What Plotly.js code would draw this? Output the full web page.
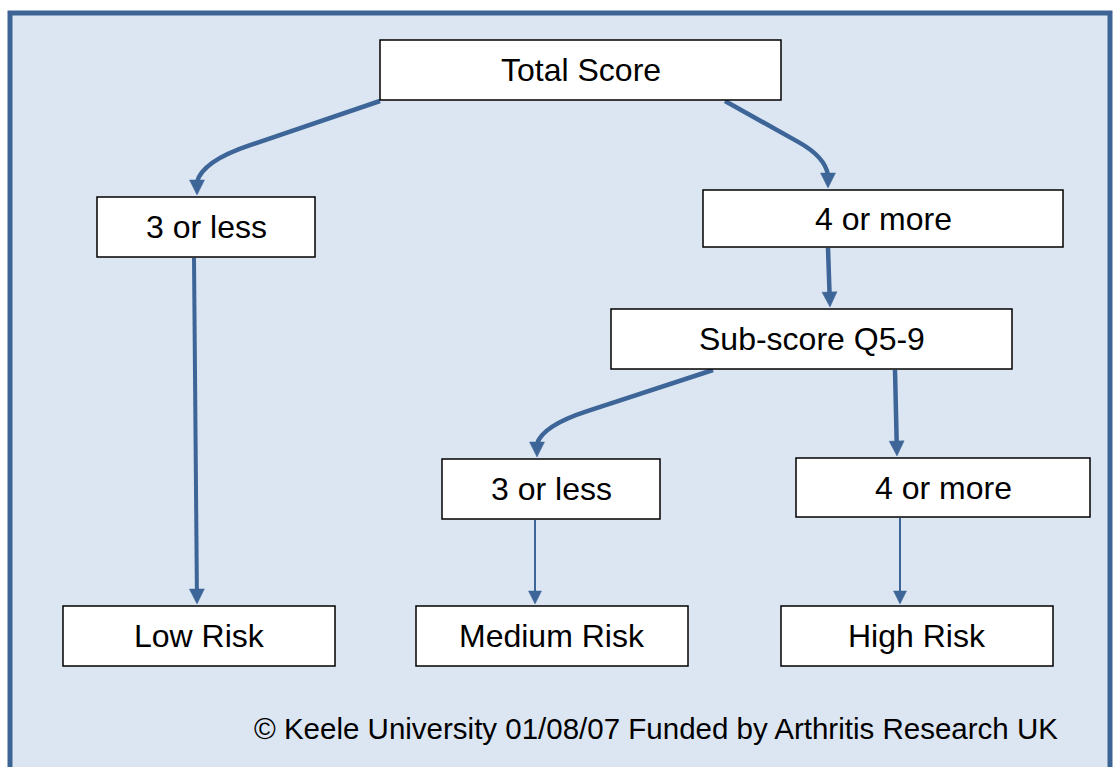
<!DOCTYPE html>
<html>
<head>
<meta charset="utf-8">
<script src="https://cdn.plot.ly/plotly-3.0.1.min.js"></script>
<style>html,body{margin:0;padding:0;background:#fff;}#chart{width:1113px;height:767px;}</style>
</head>
<body>
<div id="chart"></div>
<script>
// ---- data ----
var nodeLabels = ['Total Score', '3 or less', '4 or more', 'Sub-score Q5-9', '3 or less', '4 or more', 'Low Risk', 'Medium Risk', 'High Risk'];
var edgeFrom = [0, 0, 2, 3, 3, 1, 4, 5];
var edgeTo   = [1, 2, 3, 4, 5, 6, 7, 8];
var edgeKind = ['curve', 'curve', 'straight', 'curve', 'straight', 'straight', 'straight', 'straight'];
var footerText = '\u00A9 Keele University 01/08/07 Funded by Arthritis Research UK';

// ---- layout (positions / sizes / styles) ----
var boxX0 = [380, 97, 703, 611, 442, 796, 63, 416, 781];
var boxX1 = [781, 315, 1063, 1012, 660, 1090, 335, 688, 1053];
var boxY0 = [40, 197, 190, 309, 459, 458, 606, 606, 606];
var boxY1 = [100, 257, 247, 369, 519, 517, 666, 666, 666];
var edgeStartX = [380, 725, 828, 713, 895, 194, 535, 900];
var edgeEndX   = [197, 828, 830, 537, 897, 197, 535, 900];
var edgeWidth  = [4.5, 4.5, 4.5, 4.5, 4.5, 4, 2, 2];
var lineColor = '#3d6598';
var FONT = 'Liberation Sans, Arial, sans-serif';

var shapes = [];
var annotations = [];

// frame
shapes.push({type: 'rect', xref: 'x', yref: 'y', x0: 10, x1: 1110, y0: 13, y1: 790,
  fillcolor: '#dce6f2', line: {color: '#3e6496', width: 5}, layer: 'below'});

var heads = [];
for (var i = 0; i < edgeFrom.length; i++) {
  var s = edgeFrom[i], t = edgeTo[i];
  var sx = edgeStartX[i], sy = boxY1[s] + 1;
  var ex = edgeEndX[i], ey = boxY0[t] - 2;
  var thick = edgeWidth[i] > 3;
  var hl = thick ? 15 : 13, hw = thick ? 7.5 : 6.5;
  var path;
  var dirx, diry;
  if (edgeKind[i] === 'curve') {
    var kx = ex + 0.29 * (sx - ex);
    var ky = sy + 0.47 * (ey - sy);
    var cx = ex + 0.03 * (sx - ex);
    var cy = ky + 0.17 * (ey - sy);
    var endY = ey - hl + 2;
    path = 'M ' + sx + ' ' + sy + ' L ' + kx + ' ' + ky + ' Q ' + cx + ' ' + cy + ' ' + ex + ' ' + endY;
    dirx = 0; diry = 1;
  } else {
    var L = Math.sqrt((ex - sx) * (ex - sx) + (ey - sy) * (ey - sy));
    dirx = (ex - sx) / L; diry = (ey - sy) / L;
    var lx = ex - dirx * (hl - 2), ly = ey - diry * (hl - 2);
    path = 'M ' + sx + ' ' + sy + ' L ' + lx + ' ' + ly;
  }
  shapes.push({type: 'path', xref: 'x', yref: 'y', path: path,
    line: {color: lineColor, width: edgeWidth[i]}});
  // arrow head
  var bx = ex - dirx * hl, by = ey - diry * hl;
  var px = -diry, py = dirx;
  var hp = 'M ' + ex + ' ' + ey + ' L ' + (bx + px * hw) + ' ' + (by + py * hw) +
           ' L ' + (bx - px * hw) + ' ' + (by - py * hw) + ' Z';
  heads.push({type: 'path', xref: 'x', yref: 'y', path: hp, fillcolor: lineColor,
    line: {color: lineColor, width: 0.5}});
}

// boxes
for (var j = 0; j < nodeLabels.length; j++) {
  shapes.push({type: 'rect', xref: 'x', yref: 'y', x0: boxX0[j], x1: boxX1[j], y0: boxY0[j], y1: boxY1[j],
    fillcolor: '#ffffff', line: {color: '#000000', width: 1.5}});
  annotations.push({xref: 'x', yref: 'y', x: (boxX0[j] + boxX1[j]) / 2, y: (boxY0[j] + boxY1[j]) / 2,
    text: nodeLabels[j], showarrow: false, xanchor: 'center', yanchor: 'middle',
    font: {family: FONT, size: 32, color: '#000000'}});
}
shapes = shapes.concat(heads);

annotations.push({xref: 'x', yref: 'y', x: 656, y: 728, text: footerText, showarrow: false,
  xanchor: 'center', yanchor: 'middle', font: {family: FONT, size: 29.5, color: '#000000'}});

var layout = {
  width: 1113, height: 767,
  margin: {l: 0, r: 0, t: 0, b: 0},
  paper_bgcolor: '#ffffff', plot_bgcolor: '#ffffff',
  xaxis: {range: [0, 1113], visible: false, fixedrange: true},
  yaxis: {range: [767, 0], visible: false, fixedrange: true},
  showlegend: false,
  shapes: shapes,
  annotations: annotations
};

Plotly.newPlot('chart', [{x: [0], y: [0], mode: 'markers', marker: {opacity: 0}, hoverinfo: 'skip'}], layout,
  {displayModeBar: false, staticPlot: true});
</script>
</body>
</html>
